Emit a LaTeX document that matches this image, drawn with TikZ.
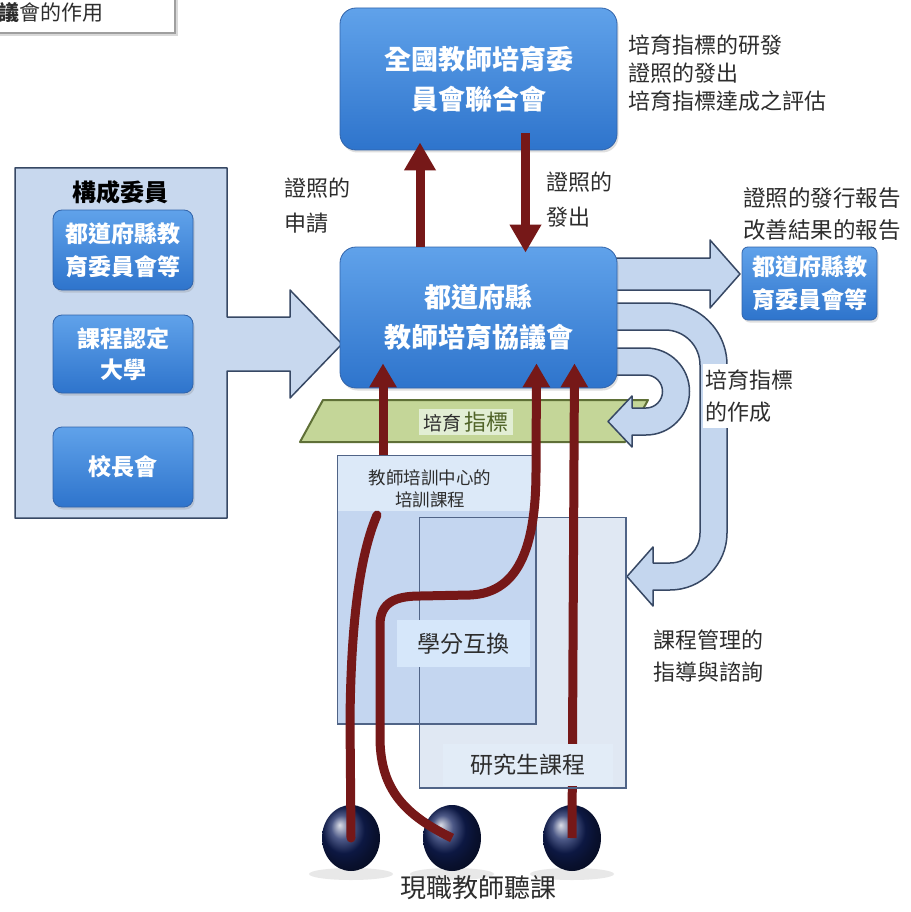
\documentclass[tikz,border=0pt]{standalone}
\usepackage{fontspec}
\newfontfamily\cjk{Noto Sans CJK TC}
\usetikzlibrary{arrows.meta,shadows,shapes.geometric}
\newcommand{\myfs}[2]{\fontsize{#1}{#2}\selectfont}
\definecolor{bluetop}{RGB}{96,162,234}
\definecolor{bluebot}{RGB}{46,116,204}
\definecolor{blueedge}{RGB}{50,100,170}
\definecolor{panelfill}{RGB}{200,216,238}
\definecolor{paneldraw}{RGB}{55,72,100}
\definecolor{arrowfill}{RGB}{196,214,238}
\definecolor{bandfill}{RGB}{196,214,152}
\definecolor{banddraw}{RGB}{95,112,55}
\definecolor{bandlight}{RGB}{226,238,212}
\definecolor{bandtext}{RGB}{80,100,40}
\definecolor{darkred}{RGB}{118,24,24}
\definecolor{boxAfill}{RGB}{196,214,240}
\definecolor{boxAtop}{RGB}{220,233,248}
\definecolor{boxBfill}{RGB}{224,232,243}
\definecolor{boxdraw}{RGB}{80,100,135}
\definecolor{lblbg}{RGB}{214,231,250}
\definecolor{lblbgB}{RGB}{226,236,247}
\definecolor{navy}{RGB}{18,34,95}
\definecolor{txt}{RGB}{45,45,45}
\begin{document}
\begin{tikzpicture}[x=1pt,y=-1pt,
  bluebox/.style={rounded corners=16pt, top color=bluetop, bottom color=bluebot,
    draw=blueedge, line width=0.8pt, text=white, align=center, inner sep=0pt,
    drop shadow={opacity=0.25,shadow xshift=1.5pt,shadow yshift=-2.5pt}},
  smallbox/.style={bluebox, rounded corners=9pt},
  lbl/.style={text=txt, align=left, inner sep=0pt},
  redline/.style={draw=darkred, line width=9pt},
  redarrow/.style={redline, -{Triangle[length=28pt,width=30pt]}},
  redarrowsm/.style={redline, -{Triangle[length=24pt,width=26pt]}},
  blockarrow/.style={fill=arrowfill, draw=paneldraw, line width=1.5pt, line join=round},
  greybox/.style={draw=boxdraw, line width=1.5pt},
  ball/.style={ellipse, ball color=navy, minimum width=58pt, minimum height=66pt, inner sep=0pt}
]
\useasboundingbox (0,0) rectangle (910,912);
\fill[white] (0,0) rectangle (910,912);

% title box (clipped at page corner)
\draw[gray!30, line width=2pt] (-10,-10) rectangle (177,35);
\draw[gray!75, line width=1.6pt] (-10,-10) rectangle (175,33);
\node[anchor=west, text=txt, inner sep=0pt, font=\cjk\myfs{21}{21}] (title) at (-2,13) {\textbf{議}會的作用};

% left panel with its block arrow
\filldraw[fill=panelfill, draw=paneldraw, line width=1.5pt, line join=round]
  (15,168) -- (227,168) -- (227,317) -- (290,317) -- (290,290) -- (342,344)
  -- (290,398) -- (290,371) -- (227,371) -- (227,518) -- (15,518) -- cycle;
\node[text=black, font=\cjk\bfseries\myfs{24}{24}] (members) at (120,192) {構成委員};
\node[smallbox, minimum width=140pt, minimum height=80pt, font=\cjk\bfseries\myfs{23}{33}] (m1) at (123,250) {都道府縣教\\育委員會等};
\node[smallbox, minimum width=140pt, minimum height=78pt, font=\cjk\bfseries\myfs{23}{31}] (m2) at (123,354) {課程認定\\大學};
\node[smallbox, minimum width=140pt, minimum height=80pt, font=\cjk\bfseries\myfs{23}{31}] (m3) at (123,467) {校長會};

% right block arrow
\filldraw[blockarrow] (612,258) -- (710,258) -- (710,240) -- (740,274) -- (710,308) -- (710,290) -- (612,290) -- cycle;

% big U-turn arrow
\filldraw[blockarrow] (612,303) -- (665,303) arc[start angle=90,end angle=0,radius=62pt]
  -- (727,533) arc[start angle=0,end angle=-90,radius=57pt]
  -- (653,590) -- (653,606) -- (627,576.5) -- (653,547) -- (653,563) -- (670,563)
  arc[start angle=-90,end angle=0,radius=30pt]
  -- (700,365) arc[start angle=0,end angle=90,radius=35pt] -- (612,330) -- cycle;

% green band
\filldraw[fill=bandfill, draw=banddraw, line width=2pt, line join=round]
  (323,400) -- (648,400) -- (625,442) -- (300,442) -- cycle;
\node[fill=bandlight, inner xsep=5pt, inner ysep=3pt, font=\cjk] (band) at (466,422)
  {{\color{txt}\myfs{19}{19}培育} {\color{bandtext}\myfs{22}{22}指標}};

% small U-turn arrow
\filldraw[blockarrow] (612,348) -- (646,348) arc[start angle=90,end angle=-90,radius=43.5pt]
  -- (632,435) -- (632,447) -- (608,421.5) -- (632,396) -- (632,408) -- (646,408)
  arc[start angle=-90,end angle=90,radius=16.5pt] -- (612,375) -- cycle;

% blue boxes
\node[bluebox, minimum width=277pt, minimum height=142pt, font=\cjk\bfseries\myfs{27}{40}] (nat) at (478.5,79) {全國教師培育委\\員會聯合會};
\node[bluebox, minimum width=277pt, minimum height=141pt, font=\cjk\bfseries\myfs{27}{40}] (pref) at (478.5,317.5) {都道府縣\\教師培育協議會};
\node[bluebox, rounded corners=6pt, minimum width=135pt, minimum height=73pt, font=\cjk\bfseries\myfs{23}{33}] (board) at (809.5,283.5) {都道府縣教\\育委員會等};

% labels
\node[lbl, anchor=west, font=\cjk\myfs{22}{28}] (natlbl) at (628,73) {培育指標的研發\\證照的發出\\培育指標達成之評估};
\node[lbl, anchor=west, font=\cjk\myfs{22}{35}] (apply) at (284,205.5) {證照的\\申請};
\node[lbl, anchor=west, font=\cjk\myfs{22}{35}] (issue) at (546,199.5) {證照的\\發出};
\node[lbl, anchor=west, font=\cjk\myfs{22.5}{32}] (report) at (743,214) {證照的發行報告\\改善結果的報告};
\node[lbl, anchor=west, fill=white, inner xsep=2pt, inner ysep=6pt, font=\cjk\myfs{22}{32}] (make) at (703,396) {培育指標\\的作成};
\node[lbl, anchor=west, font=\cjk\myfs{22}{32}] (guide) at (653,656) {課程管理的\\指導與諮詢};

% course boxes
\node[greybox, draw=none, fill=boxBfill, minimum width=205pt, minimum height=269pt, inner sep=0pt] (boxB) at (522.5,652.5) {};
\node[greybox, draw=none, fill=boxAfill, minimum width=197pt, minimum height=267pt, inner sep=0pt] (boxA) at (436.5,589.5) {};
\fill[boxAtop] (boxA.north west) rectangle ([yshift=-56pt]boxA.north east);
\draw[greybox] (boxB.north west) rectangle (boxB.south east);
\draw[greybox] (boxA.north west) rectangle (boxA.south east);
\node[fill=lblbg, minimum width=133pt, minimum height=47pt, inner sep=0pt, text=txt, font=\cjk\myfs{23}{23}] (credit) at (463.5,643.5) {學分互換};
\node[text=txt, align=center, inner sep=0pt, font=\cjk\myfs{17.5}{22}] (center) at (430,489) {教師培訓中心的\\培訓課程};

% floor shadows and balls
\fill[gray!18] (351,874) ellipse[x radius=42pt, y radius=6pt];
\fill[gray!18] (452,874) ellipse[x radius=42pt, y radius=6pt];
\fill[gray!18] (572,874) ellipse[x radius=42pt, y radius=6pt];
\node[ball] (ball1) at (351,838) {};
\node[ball] (ball2) at (452,838) {};
\node[ball] (ball3) at (572,838) {};

% dark red paths
\coordinate (l1end) at (377,515);
\draw[redline, line cap=round] (ball1.center) -- (350,720) .. controls (351,620) and (360,555) .. (l1end);
\draw[redarrowsm] ([xshift=-53.5pt]boxA.north) -- ([xshift=-95.5pt,yshift=25pt]pref.south);
\draw[redarrowsm] (ball2.center) .. controls (405,815) and (381,790) .. (380,740) -- (380,625)
  .. controls (380,602) and (396,596) .. (420,596) -- (470,595)
  .. controls (522,593) and (536,540) .. (536,470) -- ([xshift=58pt,yshift=25pt]pref.south);
\draw[redarrowsm] (ball3.center) -- ([xshift=96pt,yshift=25pt]pref.south);
\draw[redarrow] ([xshift=-58.5pt]pref.north) -- ([xshift=-58.5pt,yshift=8pt]nat.south);
\draw[redarrow] ([xshift=47pt,yshift=17pt]nat.south) -- ([xshift=47pt,yshift=-6pt]pref.north);

% graduate course label (covers line 3)
\node[fill=lblbgB, minimum width=170pt, minimum height=42pt, inner sep=0pt, text=txt, font=\cjk\myfs{23}{23}] (grad) at (528,764.5) {研究生課程};
\draw[greybox] (boxB.south west) -- (boxB.south east) -- (boxB.north east);

\node[text=txt, inner sep=0pt, font=\cjk\myfs{26}{26}] (listen) at (478,888) {現職教師聽課};
\end{tikzpicture}
\end{document}
